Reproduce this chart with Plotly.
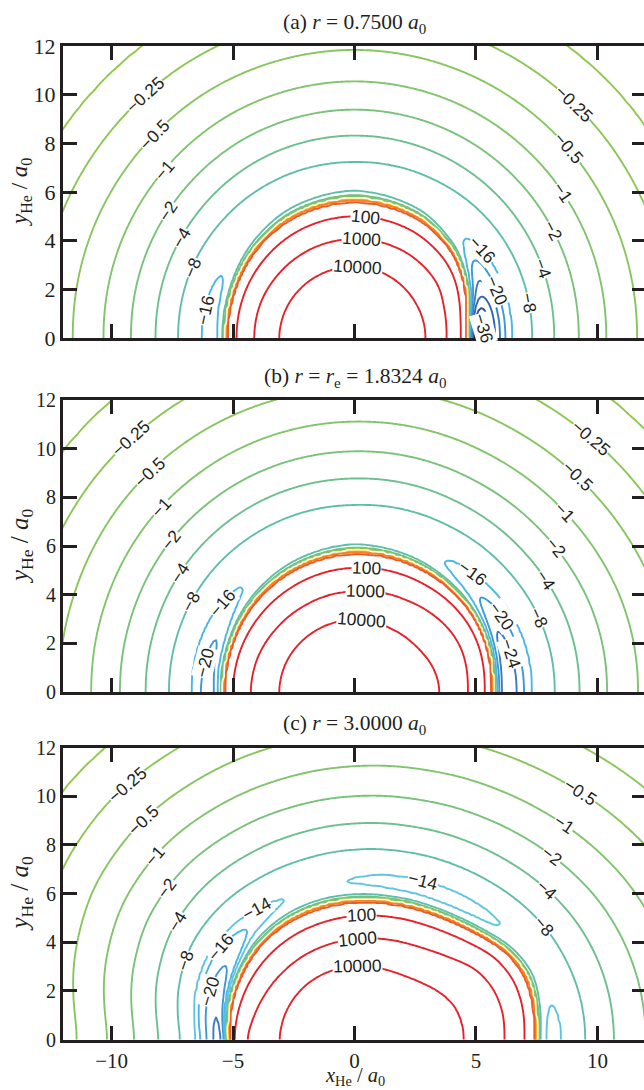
import numpy as np
import plotly.graph_objects as go

# ---------------- chart data ----------------
LEVEL_VALUES = [-36, -32, -28, -24, -20, -16, -14, -8, -4, -2, -1, -0.5, -0.25, -0.125,
                0, 0.125, 0.25, 0.5, 1, 2, 4, 8, 100, 1000, 10000]
LEVEL_COLORS = ["#2b3990", "#2e4ea2", "#3262b1", "#3a79c3", "#3d98d6", "#48b6e6", "#5ec4e0",
                "#5fbea8", "#6cbf8e", "#78c27a", "#80c46b", "#87c55e", "#8cc653", "#91c74b",
                "#ffffff", "#c5da45", "#dde02f", "#f1e11c", "#f8ca10", "#f6a81c", "#f28422", "#ec5a28",
                "#e8202a", "#e8202a", "#e8202a"]
WALL_LEVELS = [-8, -4, -2, -1, -0.5, -0.25, -0.125, 0, 0.125, 0.25, 0.5, 1, 2, 4, 8, 100, 1000, 10000]
LEVELS_A = [-36, -32, -28, -24, -20, -16] + WALL_LEVELS
LEVELS_B = [-36, -32, -28, -24, -20, -16] + WALL_LEVELS
LEVELS_C = [-28, -24, -20, -16, -14] + WALL_LEVELS
ZERO_LEVEL = 0
PANEL_LETTERS = ["a", "b", "c"]
BOND_LENGTH = [0.75, 1.8324, 3.0]
EQUILIBRIUM_PANEL = 1

# per-panel radial features along rays from the origin (angle in degrees):
# radius of the 100 contour, radius of the 10000 contour, well depth, radius of the -2 contour
ANGLES_A = [0, 10, 20, 30, 40, 60, 90, 120, 140, 160, 180]
WALL100_A = [4.36, 4.42, 4.58, 4.77, 4.9, 5.0, 5.0, 4.97, 4.92, 4.88, 4.85]
WALL10K_A = [2.92, 2.92, 2.91, 2.9, 2.9, 2.91, 2.93, 2.97, 3.02, 3.07, 3.1]
DEPTH_A = [38, 35, 26, 21.5, 16.2, 12, 10.5, 11.5, 13.5, 16.8, 18]
RMINUS2_A = [9.23, 9.25, 9.28, 9.3, 9.33, 9.37, 9.4, 9.37, 9.3, 9.25, 9.2]

ANGLES_B = [0, 10, 20, 30, 40, 60, 90, 120, 140, 160, 180]
WALL100_B = [5.35, 5.4, 5.45, 5.45, 5.4, 5.25, 5.1, 5.02, 5.0, 5.0, 5.0]
WALL10K_B = [3.5, 3.45, 3.35, 3.22, 3.12, 3.0, 2.96, 2.98, 3.02, 3.07, 3.1]
DEPTH_B = [27, 26.5, 24.8, 22, 19, 15, 12.5, 14, 16.3, 20.2, 22]
RMINUS2_B = [10.4, 10.4, 10.35, 10.25, 10.15, 10.0, 9.9, 9.85, 9.8, 9.7, 9.65]

ANGLES_C = [0, 10, 20, 30, 40, 50, 60, 75, 90, 105, 120, 135, 150, 165, 180]
WALL100_C = [6.98, 7.05, 7.0, 6.7, 6.15, 5.75, 5.48, 5.22, 5.07, 4.98, 4.95, 4.93, 4.92, 4.92, 4.93]
WALL10K_C = [4.5, 4.45, 4.3, 3.95, 3.6, 3.35, 3.2, 3.06, 3.0, 2.98, 2.98, 3.0, 3.02, 3.05, 3.07]
DEPTH_C = [15.6, 14.0, 12, 12.8, 14.3, 14.9, 15.0, 14.8, 14.1, 13.5, 14.1, 15.9, 20, 23, 25.5]
RMINUS2_C = [12.0, 11.95, 11.8, 11.55, 11.2, 10.85, 10.55, 10.2, 10.0, 9.9, 9.9, 9.95, 9.85, 9.5, 9.0]

# contour labels: (level, ray angle in degrees where the label sits)
LABELS_A = [(-0.25, 130.8), (-0.5, 134.6), (-1, 138.5), (-2, 145.8), (-4, 150), (-8, 156.6), (-16, 169.3),
            (-0.25, 46.8), (-0.5, 41.5), (-1, 35), (-2, 28.3), (-4, 20.4), (-8, 11.4),
            (-16, 34.4), (-20, 18.6), (-36, 4.5), (100, 84.6), (1000, 85.7), (10000, 87.3)]
LABELS_B = [(-0.25, 131.4), (-0.5, 132.9), (-1, 136.5), (-2, 140.4), (-4, 145.8), (-8, 151), (-16, 146),
            (-20, 169), (-0.25, 47), (-0.5, 44), (-1, 40.6), (-2, 35.7), (-4, 30.4), (-8, 21.9),
            (-16, 45.2), (-20, 27.4), (-24, 13.7), (100, 84.7), (1000, 83.5), (10000, 84.2)]
LABELS_C = [(-0.25, 131.8), (-0.5, 133.9), (-1, 137.5), (-2, 141.2), (-4, 146.5), (-8, 154.9),
            (-14, 127), (-16, 145.4), (-20, 161.8), (-0.5, 47.6), (-1, 45.7), (-2, 42.9), (-4, 37.9),
            (-8, 30.9), (-14, 66.6), (100, 86.6), (1000, 88.4), (10000, 87.7)]

X_TICKS = [-10, -5, 0, 5, 10]
Y_TICKS = [0, 2, 4, 6, 8, 10, 12]

# ---------------- model surface built from the features above ----------------
BETA = 2.0
TH_FINE = np.radians(np.arange(0.0, 180.0001, 0.5))


def tt6(x):
    term = np.ones_like(x)
    s = np.ones_like(x)
    for k in range(1, 7):
        term = term * x / k
        s = s + term
    return 1.0 - np.exp(-x) * s


def disp(R, c6):
    return c6 * tt6(BETA * R) / R ** 6


def profile(ang_deg, vals, sigma_deg=3.0):
    deg = np.degrees(TH_FINE)
    lin = np.interp(deg, ang_deg, vals)
    n = int(4 * sigma_deg / 0.5)
    k = np.exp(-0.5 * ((np.arange(-n, n + 1) * 0.5) / sigma_deg) ** 2)
    k /= k.sum()
    pad = np.concatenate([lin[n:0:-1], lin, lin[-2:-n - 2:-1]])
    return np.convolve(pad, k, mode="valid")


def phi(u):
    small = np.abs(u) < 1e-6
    us = np.where(small, 1.0, u)
    return np.where(small, 1.0 + 0.5 * u, us / (1.0 - np.exp(-us)))


def build_panel(ang, w100, w10k, depth, rm2):
    r100 = profile(ang, w100)
    r10k = profile(ang, w10k)
    eps = profile(ang, depth)
    c6 = 2.0 * profile(ang, rm2) ** 6
    Wt = 100.0 + disp(r100, c6)
    t = np.linspace(0.0, 7.0, 500)[None, :]
    Dg = disp(r100[:, None] + t, c6[:, None])
    lo = np.full_like(r100, 0.2)
    hi = np.full_like(r100, 15.0)
    for _ in range(50):
        mid = 0.5 * (lo + hi)
        vmin = (Wt[:, None] * np.exp(-mid[:, None] * t) - Dg).min(axis=1)
        shallow = vmin > -eps
        lo = np.where(shallow, mid, lo)
        hi = np.where(shallow, hi, mid)
    b = 0.5 * (lo + hi)
    dlt = r100 - r10k
    L = np.log((10000.0 + disp(r10k, c6)) / Wt)
    alpha = b * dlt / L
    ulo = np.full_like(b, -40.0)
    uhi = np.full_like(b, 40.0)
    for _ in range(80):
        um = 0.5 * (ulo + uhi)
        big = phi(um) > alpha
        uhi = np.where(big, um, uhi)
        ulo = np.where(big, ulo, um)
    u = 0.5 * (ulo + uhi)
    se = np.maximum(b * np.exp(-u), 1.5)
    return dict(r100=r100, b=b, u=u, L=L, dlt=dlt, W=Wt, c6=c6, se=se)


def potential(P, R, th):
    g = lambda a: np.interp(th, TH_FINE, a)
    r100, b, u, L, dlt, W, c6, se = (g(P[k]) for k in ("r100", "b", "u", "L", "dlt", "W", "c6", "se"))
    t = r100 - R
    tin = np.clip(t, 0.0, dlt)
    small = np.abs(u) < 1e-6
    us = np.where(small, 1.0, u)
    inner = np.where(small, L * tin / dlt, L * (1.0 - np.exp(-us * tin / dlt)) / (1.0 - np.exp(-us)))
    expo = np.where(t <= 0, b * t, np.where(t <= dlt, inner, L + se * (t - dlt)))
    expo = np.minimum(expo, 30.0)
    Rs = np.maximum(R, 1e-2)
    return W * np.exp(expo) - disp(Rs, c6)


def to_index(V, levels):
    lv = np.array(levels, float)
    sl = np.arcsinh(lv / 0.05)
    s = np.arcsinh(V / 0.05)
    idx = np.arange(len(lv), dtype=float)
    z = np.interp(s, sl, idx)
    low = s < sl[0]
    z[low] = (s[low] - sl[0]) / (sl[1] - sl[0])
    high = s > sl[-1]
    z[high] = (len(lv) - 1) + (s[high] - sl[-1]) / (sl[-1] - sl[-2])
    return z


def fmt_level(v):
    txt = f"{abs(v):g}"
    return ("\u2212" + txt) if v < 0 else txt


def color_of(v):
    return LEVEL_COLORS[LEVEL_VALUES.index(v)]


PANELS = [
    build_panel(ANGLES_A, WALL100_A, WALL10K_A, DEPTH_A, RMINUS2_A),
    build_panel(ANGLES_B, WALL100_B, WALL10K_B, DEPTH_B, RMINUS2_B),
    build_panel(ANGLES_C, WALL100_C, WALL10K_C, DEPTH_C, RMINUS2_C),
]
PANEL_LEVELS = [LEVELS_A, LEVELS_B, LEVELS_C]
PANEL_LABELS = [LABELS_A, LABELS_B, LABELS_C]

xs = np.round(np.arange(-12.3, 12.3001, 0.1), 4)
ys = np.round(np.arange(-0.3, 12.3001, 0.1), 4)
XX, YY = np.meshgrid(xs, ys)
RR = np.hypot(XX, YY)
TT = np.arctan2(np.abs(YY), XX)

# ---------------- figure ----------------
W_PX, H_PX = 646, 1090
ML = 63
plot_w = W_PX - ML
dom_px = [(46, 338), (400, 692), (747.5, 1039.5)]
ink = "#231f20"
serif = "Liberation Serif, Times New Roman, serif"
sans = "Liberation Sans, Arial, sans-serif"

fig = go.Figure()
annotations = []
for i, P in enumerate(PANELS):
    xa = "x" if i == 0 else f"x{i + 1}"
    ya = "y" if i == 0 else f"y{i + 1}"
    levels = PANEL_LEVELS[i]
    n = len(levels)
    colorscale = [[k / (n - 1), color_of(v)] for k, v in enumerate(levels)]
    zero_idx = levels.index(ZERO_LEVEL)
    V = potential(P, RR.ravel(), TT.ravel()).reshape(RR.shape)
    Z = to_index(V, levels).astype(np.float32)
    fig.add_trace(go.Contour(
        x=xs, y=ys, z=Z, xaxis=xa, yaxis=ya,
        contours=dict(start=0, end=n - 1, size=1, coloring="lines", showlabels=False),
        line=dict(width=1.9, smoothing=0.9),
        colorscale=colorscale, zmin=0, zmax=n - 1, zauto=False,
        showscale=False, hoverinfo="skip"))
    # the zero contour is drawn light on top of the crowded wall band
    fig.add_trace(go.Contour(
        x=xs, y=ys, z=Z, xaxis=xa, yaxis=ya,
        contours=dict(start=zero_idx, end=zero_idx, size=1, coloring="lines", showlabels=False),
        line=dict(width=1.3, smoothing=0.9),
        colorscale=[[0, color_of(ZERO_LEVEL)], [1, color_of(ZERO_LEVEL)]],
        showscale=False, hoverinfo="skip"))

    top, bot = dom_px[i]
    dom = [(H_PX - bot) / H_PX, (H_PX - top) / H_PX]
    axis_common = dict(showline=True, linecolor=ink, linewidth=3, mirror="ticks",
                       ticks="inside", ticklen=14, tickwidth=2.5, tickcolor=ink,
                       showgrid=False, zeroline=False, automargin=False)
    fig.layout[f"xaxis{'' if i == 0 else i + 1}"] = dict(
        axis_common, domain=[0, 1], range=[-12, 12], anchor=ya, tickvals=X_TICKS,
        showticklabels=(i == 2), tickfont=dict(family=serif, size=21, color=ink))
    fig.layout[f"yaxis{'' if i == 0 else i + 1}"] = dict(
        axis_common, domain=dom, range=[0, 12], anchor=xa, tickvals=Y_TICKS,
        tickfont=dict(family=serif, size=22 if i == 0 else 20, color=ink))

    # panel title
    r = BOND_LENGTH[i]
    mid_txt = "<i>r</i><sub>e</sub> = " if i == EQUILIBRIUM_PANEL else ""
    annotations.append(dict(
        text=f"({PANEL_LETTERS[i]}) <i>r</i> = {mid_txt}{r:.4f} <i>a</i><sub>0</sub>",
        xref=f"{xa} domain", x=0.5, yref="paper", y=(H_PX - (top - 23)) / H_PX,
        showarrow=False, xanchor="center", yanchor="middle",
        font=dict(family=serif, size=21.5, color=ink)))
    # y-axis title
    annotations.append(dict(
        text="<i>y</i><sub>He</sub> / <i>a</i><sub>0</sub>", textangle=-90,
        xref="paper", x=(21 - ML) / plot_w, yref="paper", y=(H_PX - (top + bot) / 2) / H_PX,
        showarrow=False, xanchor="center", yanchor="middle",
        font=dict(family=serif, size=23 if i == 0 else 25, color=ink)))

    # contour labels
    for level, ang in PANEL_LABELS[i]:
        th = np.radians(ang)
        Rr = np.arange(17.0, 0.4, -0.004)
        Vr = potential(P, Rr, np.full_like(Rr, th)) - level
        cross = np.where(np.sign(Vr[:-1]) != np.sign(Vr[1:]))[0]
        if len(cross) == 0:
            continue
        j = cross[0]
        Rc = Rr[j] + (Rr[j + 1] - Rr[j]) * Vr[j] / (Vr[j] - Vr[j + 1])
        x0, y0 = Rc * np.cos(th), Rc * np.sin(th)
        if abs(x0) > 11.5 or y0 > 11.5 or y0 < 0.3:
            continue

        def vxy(px, py):
            return potential(P, np.array([np.hypot(px, py)]), np.array([np.arctan2(abs(py), px)]))[0]

        h = 2e-3
        gx = (vxy(x0 + h, y0) - vxy(x0 - h, y0)) / (2 * h)
        gy = (vxy(x0, y0 + h) - vxy(x0, y0 - h)) / (2 * h)
        a = np.degrees(np.arctan2(gx, -gy))
        if a > 90:
            a -= 180
        if a <= -90:
            a += 180
        annotations.append(dict(
            text=fmt_level(level), x=x0, y=y0, xref=xa, yref=ya, showarrow=False,
            textangle=-a, xanchor="center", yanchor="middle", bgcolor="white", borderpad=0,
            font=dict(family=sans, size=17.5, color=ink)))

annotations.append(dict(
    text="<i>x</i><sub>He</sub> / <i>a</i><sub>0</sub>", xref="paper", x=(354.5 - ML) / plot_w,
    yref="paper", y=(H_PX - 1076) / H_PX, showarrow=False, xanchor="center", yanchor="middle",
    font=dict(family=serif, size=20.5, color=ink)))

fig.update_layout(width=W_PX, height=H_PX,
                  margin=dict(l=ML, r=0, t=0, b=0, autoexpand=False),
                  plot_bgcolor="white", paper_bgcolor="white", showlegend=False,
                  annotations=annotations)

fig.write_html("out.html", config={"displayModeBar": False},
               post_script="document.body.style.margin='0';document.body.style.overflow='hidden';")
